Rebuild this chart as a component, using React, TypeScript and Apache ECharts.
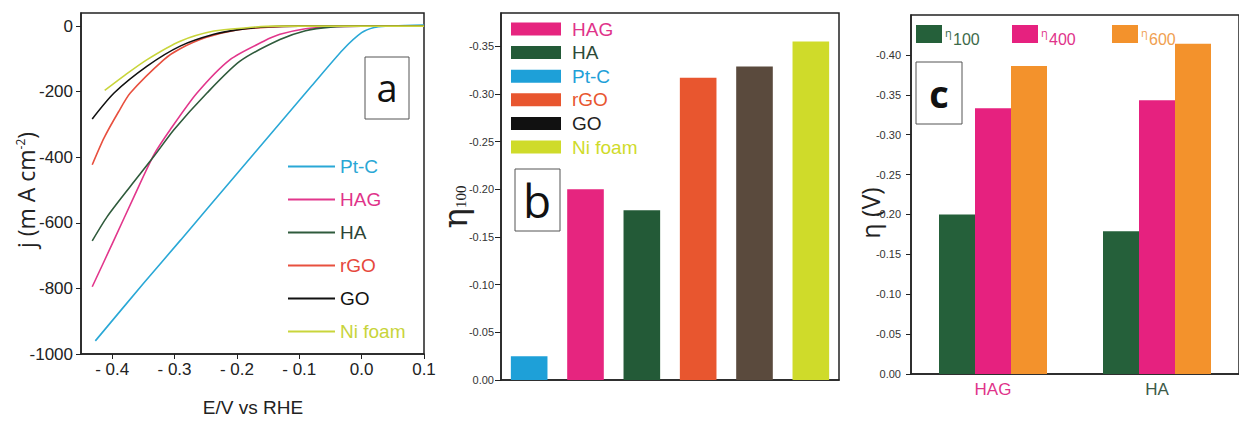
import React, { useEffect, useRef } from "react";
import * as echarts from "echarts";

// ---------- Panel a: polarization curves ----------
const aNames = ["Pt-C", "HAG", "HA", "rGO", "GO", "Ni foam"];
const aLineColors = ["#2aa8d6", "#e2378c", "#2f5b3c", "#e8503f", "#111111", "#c9d53b"];
const aTextColors = ["#2aa7d5", "#e0338a", "#2d4436", "#e6483c", "#111111", "#c8d43a"];
const ptC = [[-0.427, -960], [-0.35, -785], [-0.29, -652], [-0.2, -450], [-0.14, -316], [-0.08, -182], [-0.03, -72], [0.0, -20], [0.02, -4], [0.04, 0], [0.07, 2], [0.1, 3]];
const hag = [[-0.432, -795], [-0.397, -652], [-0.365, -520], [-0.333, -392], [-0.307, -316], [-0.264, -204], [-0.211, -102], [-0.157, -46], [-0.131, -25], [-0.09, -8], [-0.05, -2], [0, 0], [0.1, 0]];
const ha = [[-0.432, -655], [-0.408, -581], [-0.371, -489], [-0.333, -397], [-0.301, -316], [-0.248, -204], [-0.195, -107], [-0.131, -41], [-0.09, -14], [-0.05, -3], [0, 0], [0.1, 0]];
const rgo = [[-0.432, -423], [-0.413, -341], [-0.39, -262], [-0.371, -204], [-0.317, -102], [-0.291, -69], [-0.25, -35], [-0.2, -12], [-0.15, -3], [-0.1, 0], [0.1, 0]];
const go = [[-0.432, -283], [-0.397, -204], [-0.344, -122], [-0.291, -61], [-0.237, -25], [-0.195, -10], [-0.15, -2], [-0.1, 0], [0.1, 0]];
const niFoam = [[-0.412, -196], [-0.38, -150], [-0.344, -102], [-0.291, -46], [-0.237, -15], [-0.184, -5], [-0.14, 0], [0.1, 0]];
const aSeriesData = [ptC, hag, ha, rgo, go, niFoam];
const aXTicks = [-0.4, -0.3, -0.2, -0.1, 0, 0.1];
const aYTicks = [0, -200, -400, -600, -800, -1000];

// ---------- Panel b: eta100 bars ----------
const bCategories = ["Pt-C", "HAG", "HA", "rGO", "GO", "Ni foam"];
const bValues = [0.025, 0.2, 0.178, 0.317, 0.329, 0.355];
const bBarColors = ["#1ea0d8", "#e6257f", "#235a37", "#e8562f", "#5a4a3d", "#cfdb2a"];
const bLegendNames = ["HAG", "HA", "Pt-C", "rGO", "GO", "Ni foam"];
const bLegendColors = ["#e6257f", "#235a37", "#1ea0d8", "#e8562f", "#111111", "#cfdb2a"];
const bLegendTextColors = ["#e0338a", "#2d4a38", "#1ea0d8", "#e8562f", "#222222", "#cfdb2a"];
const bYTicks = [0, 0.05, 0.1, 0.15, 0.2, 0.25, 0.3, 0.35];

// ---------- Panel c: grouped bars ----------
const cCategories = ["HAG", "HA"];
const cCategoryColors = ["#e0338a", "#3d5a48"];
const cSeriesNames = ["100", "400", "600"];
const cEta100 = [0.2, 0.179];
const cEta400 = [0.333, 0.343];
const cEta600 = [0.386, 0.414];
const cColors = ["#25603a", "#e6217f", "#f3922c"];
const cTextColors = ["#3d6a4a", "#e0338a", "#f0a050"];
const cYTicks = [0, 0.05, 0.1, 0.15, 0.2, 0.25, 0.3, 0.35, 0.4];

const NARROW = "'Liberation Sans', Arimo, sans-serif";
const SANS = "'Open Sans', 'Liberation Sans', sans-serif";

const fmtA = (v: number) => {
  if (Math.abs(v) < 1e-9) return "0.0";
  return v < 0 ? "- " + Math.abs(v).toFixed(1) : v.toFixed(1);
};
const fmtEta = (v: number) => (Math.abs(v) < 1e-9 ? "0.00" : "-" + v.toFixed(2));

export default function App() {
  const ref = useRef<HTMLDivElement>(null);
  useEffect(() => {
    if (!ref.current) return;
    const chart = echarts.init(ref.current, null, { renderer: "svg" });
    const axisLine = { show: true, onZero: false, lineStyle: { color: "#222", width: 1.5 } };
    const graphic: any[] = [];

    // panel a titles and box
    graphic.push({
      type: "text", x: 26, y: 190, rotation: Math.PI / 2,
      style: {
        text: "{a|j (m A cm}{s|-2}{a|)}", align: "center", verticalAlign: "middle",
        rich: { a: { fontSize: 23, fontFamily: SANS, fill: "#222" }, s: { fontSize: 12, fontFamily: SANS, fill: "#222", verticalAlign: "top", padding: [0, 0, 12, 0] } },
      },
    });
    graphic.push({ type: "text", x: 253, y: 407, style: { text: "E/V vs RHE", fontSize: 19, fontFamily: NARROW, fill: "#222", align: "center", verticalAlign: "middle" } });
    graphic.push({ type: "rect", shape: { x: 365, y: 57, width: 44, height: 62 }, style: { fill: "#fff", stroke: "#555", lineWidth: 1 } });
    graphic.push({ type: "text", x: 387, y: 87, style: { text: "a", fontSize: 38, fontFamily: SANS, fill: "#111", align: "center", verticalAlign: "middle" } });

    // panel b titles, legend, box
    graphic.push({
      type: "text", x: 455, y: 207, rotation: Math.PI / 2,
      style: {
        text: "{e|η}{s|100}", align: "center", verticalAlign: "middle",
        rich: { e: { fontSize: 34, fontFamily: "'DejaVu Serif', 'Liberation Serif', serif", fill: "#222" }, s: { fontSize: 15, fontFamily: "'Liberation Serif', serif", fill: "#222", padding: [12, 0, 0, 0] } },
      },
    });
    bLegendNames.forEach((n, i) => {
      const cy = 29 + i * 23.6;
      graphic.push({ type: "rect", shape: { x: 511, y: cy - 6.5, width: 50, height: 13 }, style: { fill: bLegendColors[i] } });
      graphic.push({ type: "text", x: 572, y: cy, style: { text: n, fontSize: 19, fontFamily: NARROW, fill: bLegendTextColors[i], verticalAlign: "middle" } });
    });
    graphic.push({ type: "rect", shape: { x: 515, y: 169, width: 45, height: 62 }, style: { fill: "#fff", stroke: "#555", lineWidth: 1 } });
    graphic.push({ type: "text", x: 537, y: 200, style: { text: "b", fontSize: 46, fontFamily: SANS, fill: "#111", align: "center", verticalAlign: "middle" } });

    // panel c titles, legend, box
    graphic.push({ type: "text", x: 870, y: 213, rotation: Math.PI / 2, style: { text: "η (V)", fontSize: 25, fontFamily: SANS, fill: "#222", align: "center", verticalAlign: "middle" } });
    const cLegX = [916, 1012, 1112];
    cSeriesNames.forEach((n, i) => {
      graphic.push({ type: "rect", shape: { x: cLegX[i], y: 25, width: 26, height: 18 }, style: { fill: cColors[i] } });
      graphic.push({ type: "text", x: cLegX[i] + 29, y: 32, style: { text: "η", fontSize: 11, fontFamily: SANS, fill: cTextColors[i], verticalAlign: "middle" } });
      graphic.push({ type: "text", x: cLegX[i] + 37, y: 39, style: { text: n, fontSize: 16, fontFamily: NARROW, fill: cTextColors[i], verticalAlign: "middle" } });
    });
    graphic.push({ type: "rect", shape: { x: 916, y: 62, width: 46, height: 62 }, style: { fill: "#fff", stroke: "#555", lineWidth: 1 } });
    graphic.push({ type: "text", x: 939, y: 93, style: { text: "c", fontSize: 38, fontWeight: "bold", fontFamily: SANS, fill: "#111", align: "center", verticalAlign: "middle" } });

    const option: any = {
      animation: false,
      backgroundColor: "#fff",
      grid: [
        { left: 81, top: 13, width: 343, height: 341, show: true, borderColor: "#222", borderWidth: 1.5, backgroundColor: "transparent" },
        { left: 501, top: 13, width: 338, height: 367, show: true, borderColor: "#222", borderWidth: 1.5, backgroundColor: "transparent" },
        { left: 911, top: 15, width: 335, height: 359, show: true, borderColor: "#222", borderWidth: 1.5, backgroundColor: "transparent" },
      ],
      xAxis: [
        {
          gridIndex: 0, type: "value", min: -0.45, max: 0.1, axisLine,
          splitLine: { show: false },
          axisTick: { show: true, length: 5, lineStyle: { color: "#222" }, customValues: aXTicks },
          axisLabel: { customValues: aXTicks, formatter: fmtA, fontSize: 17, fontFamily: NARROW, color: "#222", margin: 7 },
        },
        { gridIndex: 1, type: "category", data: bCategories, axisLine, axisTick: { show: false }, axisLabel: { show: false } },
        {
          gridIndex: 2, type: "category", axisLine, axisTick: { show: false },
          data: cCategories.map((c, i) => ({ value: c, textStyle: { color: cCategoryColors[i] } })),
          axisLabel: { fontSize: 17, fontFamily: NARROW, margin: 7 },
        },
      ],
      yAxis: [
        {
          gridIndex: 0, type: "value", min: -1000, max: 40, axisLine,
          splitLine: { show: false },
          axisTick: { show: true, length: 5, lineStyle: { color: "#222" }, customValues: aYTicks },
          axisLabel: { customValues: aYTicks, formatter: (v: number) => String(Math.round(v)), fontSize: 17, fontFamily: NARROW, color: "#222", margin: 8 },
        },
        {
          gridIndex: 1, type: "value", min: 0, max: 0.385, axisLine,
          splitLine: { show: false },
          axisTick: { show: true, length: 6, lineStyle: { color: "#222" }, customValues: bYTicks },
          axisLabel: { customValues: bYTicks, formatter: fmtEta, fontSize: 11, fontFamily: NARROW, color: "#333", margin: 7 },
        },
        {
          gridIndex: 2, type: "value", min: 0, max: 0.45, axisLine,
          splitLine: { show: false },
          axisTick: { show: true, length: 5, lineStyle: { color: "#222" }, customValues: cYTicks },
          axisLabel: { customValues: cYTicks, formatter: fmtEta, fontSize: 11, fontFamily: NARROW, color: "#333", margin: 10 },
        },
      ],
      legend: [
        {
          left: 283, top: 152, orient: "vertical", icon: "rect", itemWidth: 47, itemHeight: 2, itemGap: 14,
          textStyle: { fontSize: 19, fontFamily: NARROW },
          data: aNames.map((n, i) => ({ name: n, textStyle: { color: aTextColors[i] } })),
          selectedMode: false,
        },
      ],
      series: [
        ...aNames.map((n, i) => ({
          name: n, type: "line", xAxisIndex: 0, yAxisIndex: 0, data: aSeriesData[i],
          showSymbol: false, smooth: 0.25, lineStyle: { color: aLineColors[i], width: 1.6 }, itemStyle: { color: aLineColors[i] },
        })),
        {
          name: "eta100", type: "bar", xAxisIndex: 1, yAxisIndex: 1, barWidth: "65%",
          data: bValues.map((v, i) => ({ value: v, itemStyle: { color: bBarColors[i] } })),
        },
        ...[cEta100, cEta400, cEta600].map((d, i) => ({
          name: "η" + cSeriesNames[i], type: "bar", xAxisIndex: 2, yAxisIndex: 2, barWidth: 36, barGap: "0%",
          data: d, itemStyle: { color: cColors[i] },
        })),
      ],
      graphic,
    };
    chart.setOption(option);
    return () => chart.dispose();
  }, []);
  return <div ref={ref} style={{ position: "absolute", left: 0, top: 0, width: 1239, height: 423 }} />;
}
